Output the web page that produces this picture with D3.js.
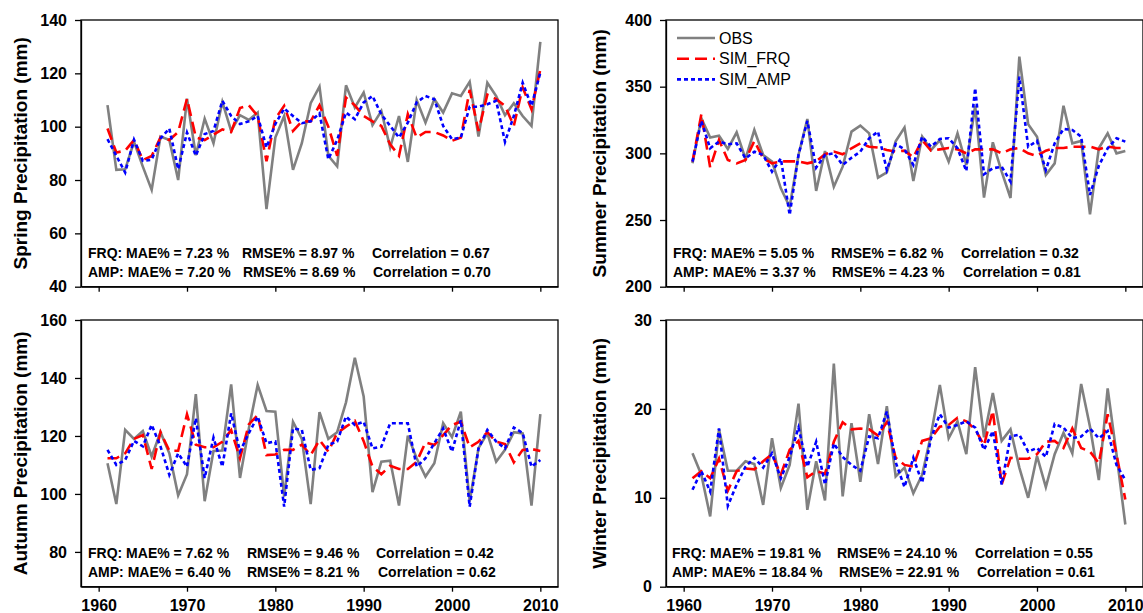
<!DOCTYPE html>
<html>
<head>
<meta charset="utf-8">
<script src="https://cdnjs.cloudflare.com/ajax/libs/d3/7.8.5/d3.min.js"></script>
<style>
body { margin: 0; background: #ffffff; }
svg text { font-family: Arial, "Liberation Sans", sans-serif; }
</style>
</head>
<body>
<div class="chart"></div>
<script>
// years of the simulation
const years = d3.range(1961, 2011);
const xTicks = [1960, 1970, 1980, 1990, 2000, 2010];
const seriesNames = ["OBS", "SIM_FRQ", "SIM_AMP"];

// spring (mm)
const springObs = [108.1, 83.8, 84, 94.3, 85, 76.3, 96.3, 95, 80, 110.5, 89.3, 103, 93.8, 109.3, 98.4, 104.3, 102.5, 105.3, 69.1, 95.9, 104, 83.8, 93.8, 108.8, 115,
  89.1, 85.1, 115.5, 107.2, 112.8, 100.6, 105.9, 92.2, 104, 86.8, 110, 101.5, 110.3, 105.3, 112.5, 111.5, 116.8, 96.3, 116.5, 111.5, 104.3, 108.8, 104, 100.3, 131.8];
const springFrq = [99.3, 90.3, 91, 95, 87.5, 89, 96, 95, 98, 110.5, 96, 95, 97, 99, 98, 107, 108, 104, 87, 103, 107.8, 98.4, 102, 102, 108,
  100, 89.1, 110.9, 108, 104, 102, 100.3, 93.4, 89.1, 104.7, 95.9, 98, 98, 96.7, 94.7, 95.9, 113.8, 98.4, 112, 110.3, 107.8, 100.3, 114.7, 106.5, 121.5];
const springAmp = [95.3, 89.1, 82.8, 95.1, 87.2, 87.6, 95.6, 99.3, 84.1, 97.8, 89.1, 97.2, 98.4, 109.7, 104, 101, 102, 104, 92.2, 101, 106.8, 104, 101.3, 102, 105,
  87.8, 95, 105.3, 102.8, 109.1, 111.5, 104.6, 100.3, 95.9, 101.5, 109.1, 111.5, 110.3, 100.3, 95.3, 95.9, 107.5, 107.5, 108.4, 109.7, 94.3, 104, 116.5, 107.8, 120.3];

// summer (mm)
const summerObs = [292.5, 326.3, 311.8, 313.3, 303.3, 315.8, 295.8, 317.5, 298.8, 293.8, 273.8, 260, 298.8, 325.8, 271.8, 301.8, 275, 290, 316.3, 320.8, 315, 281.8, 285.8, 309,
  319.3, 279.3, 312.5, 302.5, 310, 293.8, 315, 291.3, 335.7, 266.8, 308.3, 286.3, 266.5, 372.5, 321.8, 312.5, 283.8, 292.5, 335.7, 307.5, 309.3, 254.3, 303.8, 315, 300, 301.8];
const summerFrq = [293.8, 329.3, 289.3, 310, 295, 292.5, 295, 309.3, 296.2, 292.5, 294, 294, 294, 292.5, 294, 299.3, 301.3, 299.3, 303.8, 307.5, 305, 304.3, 302.5, 301.3,
  302, 297, 310, 302, 303, 304, 303, 300, 303, 303, 303, 300, 303, 304, 300, 298, 302, 304, 304, 305, 305, 305, 303, 305, 304, 304];
const summerAmp = [293.8, 324.3, 303.8, 308.8, 306.8, 307.5, 296.2, 301.3, 298.8, 286.3, 296.2, 253.8, 298.8, 324.3, 289.3, 298.8, 300, 291.3, 296.7, 301.3, 311.3, 316.3, 287.5, 307,
  303, 291.3, 312.5, 305, 310.8, 311.3, 303.8, 286.8, 348.8, 284.3, 288.8, 290, 278.8, 357.5, 305, 309.3, 287.5, 307.5, 318.3, 317.5, 312.5, 268.8, 290.7, 303.8, 311.3, 308.8];

// autumn (mm)
const autumnObs = [110.6, 96.5, 122.1, 119, 121.7, 112.9, 121.3, 114, 99.5, 106.8, 134.4, 97.5, 114.8, 115, 137.8, 105.5, 122.6, 137.6, 128.6, 128.4, 99.1, 124.9, 119, 96.5, 128.2,
  119, 121.3, 131.6, 147, 133.6, 100.6, 111.1, 111.5, 96, 120.1, 112.3, 106, 110.6, 124.4, 119.6, 128.4, 97.4, 115.8, 120.9, 111.1, 115.2, 121.3, 120.9, 96, 127.5];
const autumnFrq = [112.3, 112.3, 114, 119, 120.3, 108.6, 121.3, 114.9, 114.9, 127.5, 117, 116.1, 116.1, 118, 122, 112.3, 124, 127.2, 113.4, 113.6, 115.2, 115.2, 117, 113.4, 118.6,
  114.6, 121, 123.2, 125.2, 118.2, 109.4, 106.8, 109.7, 108.6, 108.6, 111.1, 117.8, 116.9, 120.3, 123.8, 124.9, 116.1, 118, 121.3, 118, 117.2, 110.9, 115.2, 115.5, 114.8];
const autumnAmp = [115.2, 110, 111.7, 118.3, 116.4, 123.8, 116.4, 106.6, 114, 109.4, 126.1, 105.5, 119.4, 109.4, 127.8, 114.6, 121, 126.7, 117.5, 118.1, 95.6, 122.6, 122.1, 108.3, 108.9,
  116.9, 118.1, 126.7, 123.8, 124.9, 115.7, 116.3, 124.4, 124.4, 124.4, 109.4, 112.3, 117.5, 122.6, 114.6, 125.5, 95.6, 115.7, 122.1, 118.1, 115.7, 122.9, 121, 109.4, 111.7];

// winter (mm)
const winterObs = [15, 12.6, 7.9, 17.7, 13.05, 13.05, 14.1, 13.8, 9.2, 16.7, 11.1, 13.7, 20.6, 8.65, 14.1, 9.7, 25.1, 10.15, 18.4, 11.8, 19.4, 13.8, 20.3, 12.4,
  13.4, 10.5, 12.6, 17.1, 22.7, 16.7, 18.6, 14.9, 24.7, 16.8, 21.8, 16.4, 17.7, 13.4, 10, 14.7, 11.2, 14.9, 17.3, 15, 22.8, 18, 12, 22.3, 14.9, 7];
const winterFrq = [12.2, 13, 12.2, 14.4, 10.8, 13, 13.3, 13.2, 14.1, 14.9, 12.6, 15.4, 16.4, 12.3, 13, 12.7, 16.3, 18.5, 17.7, 17.8, 17.7, 17, 18.5, 14.5,
  13.7, 13.5, 16.4, 16.7, 18, 18.2, 19, 18.6, 17.7, 15.9, 19.8, 11.5, 14.5, 14.4, 14.4, 14.9, 16.3, 16.4, 15.6, 17.8, 15.6, 15.2, 13.9, 19.4, 14.9, 9.8];
const winterAmp = [10.9, 13, 10.7, 17.8, 9.1, 11.5, 13.5, 14.5, 13.4, 15, 12.2, 14.6, 17.9, 13.5, 16.3, 11.5, 16.1, 14.6, 13.7, 13.05, 16.9, 16.7, 19.7, 14,
  11.2, 14.5, 11.7, 16.7, 19.4, 17.9, 18.2, 18.6, 17.9, 15.4, 17.5, 11.5, 16.9, 17.1, 15.2, 15.6, 14.6, 18.3, 17.9, 16.7, 16.9, 17.8, 16.7, 17.5, 13.7, 12];

// y ticks
const springTicks = [40, 60, 80, 100, 120, 140];
const summerTicks = [200, 250, 300, 350, 400];
const autumnTicks = [80, 100, 120, 140, 160];
const winterTicks = [0, 10, 20, 30];

// error statistics
const springStats = [["FRQ: MAE% = 7.23 %", "RMSE% = 8.97 %", "Correlation = 0.67"], ["AMP: MAE% = 7.20 %", "RMSE% = 8.69 %", "Correlation = 0.70"]];
const summerStats = [["FRQ: MAE% = 5.05 %", "RMSE% = 6.82 %", "Correlation = 0.32"], ["AMP: MAE% = 3.37 %", "RMSE% = 4.23 %", "Correlation = 0.81"]];
const autumnStats = [["FRQ: MAE% = 7.62 %", "RMSE% = 9.46 %", "Correlation = 0.42"], ["AMP: MAE% = 6.40 %", "RMSE% = 8.21 %", "Correlation = 0.62"]];
const winterStats = [["FRQ: MAE% = 19.81 %", "RMSE% = 24.10 %", "Correlation = 0.55"], ["AMP: MAE% = 18.84 %", "RMSE% = 22.91 %", "Correlation = 0.61"]];

const width = 1143, height = 613;
const panelW = 477, panelH = 266.7;
const lineStyles = [
	{color: "#808080", dash: null},
	{color: "#ff0000", dash: "12,6"},
	{color: "#0000ff", dash: "4,3"}
];

const panels = [
	{title: "Spring Precipitation (mm)", series: [springObs, springFrq, springAmp], domain: [40, 140], ticks: springTicks, stats: springStats,
	 left: 81, top: 20, titleX: 27, statX: [[7, 161, 291], [7, 162, 292]], legend: false, xLabels: false},
	{title: "Summer Precipitation (mm)", series: [summerObs, summerFrq, summerAmp], domain: [200, 400], ticks: summerTicks, stats: summerStats,
	 left: 666, top: 20, titleX: 606, statX: [[7, 165, 295], [7, 166, 297]], legend: true, xLabels: false},
	{title: "Autumn Precipitation (mm)", series: [autumnObs, autumnFrq, autumnAmp], domain: [68, 160], ticks: autumnTicks, stats: autumnStats,
	 left: 81, top: 320, titleX: 27, statX: [[7, 166, 295], [7, 166, 297]], legend: false, xLabels: true},
	{title: "Winter Precipitation (mm)", series: [winterObs, winterFrq, winterAmp], domain: [0, 30], ticks: winterTicks, stats: winterStats,
	 left: 666, top: 320, titleX: 606, statX: [[6, 171, 309], [6, 173, 311]], legend: false, xLabels: true}
];

let svg = d3.select("div.chart").append("svg")
	.attr("width", width)
	.attr("height", height)
	.style("display", "block");

svg.append("rect").attr("width", width).attr("height", height).attr("fill", "#ffffff");

panels.forEach(drawPanel);

function drawPanel(p) {
	let x = d3.scaleLinear().domain([1958, 2012]).range([0, panelW]);
	let y = d3.scaleLinear().domain(p.domain).range([panelH, 0]);

	let g = svg.append("g")
		.attr("transform", "translate(" + p.left + "," + p.top + ")");

	// bottom axis, labels only on the lower row
	let xAxis = g.append("g")
		.attr("transform", "translate(0," + panelH + ")")
		.call(d3.axisBottom(x)
			.tickValues(xTicks)
			.tickSize(5)
			.tickSizeOuter(0)
			.tickPadding(8)
			.tickFormat(p.xLabels ? d3.format("d") : ""));

	let yAxis = g.append("g")
		.call(d3.axisLeft(y)
			.tickValues(p.ticks)
			.tickSize(6)
			.tickSizeOuter(0)
			.tickPadding(8)
			.tickFormat(d3.format("d")));

	[xAxis, yAxis].forEach(a => {
		a.selectAll("path, line").attr("stroke", "#000").attr("stroke-width", 1.3);
		a.selectAll("text")
			.attr("fill", "#000")
			.style("font-size", "16px")
			.style("font-weight", "bold");
	});

	// box frame
	g.append("rect")
		.attr("width", panelW)
		.attr("height", panelH)
		.attr("fill", "none")
		.attr("stroke", "#000")
		.attr("stroke-width", 1.3);

	// series lines
	let line = d3.line()
		.x((d, i) => x(years[i]))
		.y(d => y(d));

	p.series.forEach((s, k) => {
		g.append("path")
			.datum(s)
			.attr("fill", "none")
			.attr("stroke", lineStyles[k].color)
			.attr("stroke-width", 2.6)
			.attr("stroke-dasharray", lineStyles[k].dash)
			.attr("d", line);
	});

	// statistics text
	p.stats.forEach((row, r) => {
		row.forEach((str, c) => {
			g.append("text")
				.attr("x", p.statX[r][c])
				.attr("y", 237.5 + r * 19)
				.style("font-size", "14px")
				.style("font-weight", "bold")
				.text(str);
		});
	});

	// y axis title
	svg.append("text")
		.attr("transform", "translate(" + p.titleX + "," + (p.top + panelH / 2) + ") rotate(-90)")
		.attr("text-anchor", "middle")
		.style("font-size", "19px")
		.style("font-weight", "bold")
		.text(p.title);

	if (p.legend) {
		let leg = g.append("g").attr("transform", "translate(11,18)");
		seriesNames.forEach((name, k) => {
			leg.append("line")
				.attr("x1", 0).attr("x2", 38)
				.attr("y1", k * 20.7).attr("y2", k * 20.7)
				.attr("stroke", lineStyles[k].color)
				.attr("stroke-width", 2.6)
				.attr("stroke-dasharray", lineStyles[k].dash);
			leg.append("text")
				.attr("x", 42)
				.attr("y", k * 20.7)
				.attr("dy", "0.36em")
				.style("font-size", "16px")
				.text(name);
		});
	}
}
</script>
</body>
</html>
